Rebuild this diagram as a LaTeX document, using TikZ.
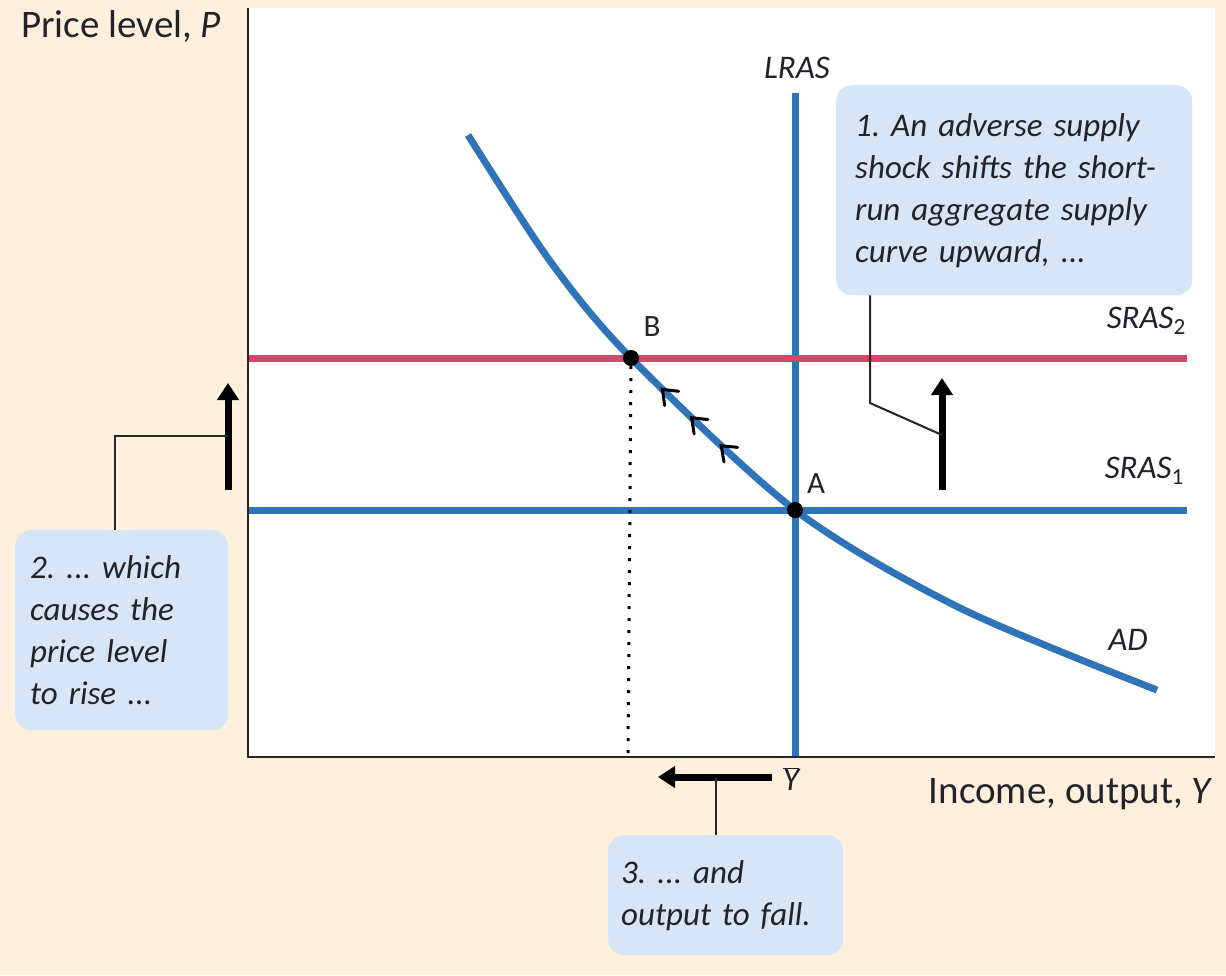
\documentclass[tikz,border=0pt]{standalone}
\usepackage{fontspec}
\setmainfont{Carlito}
\usetikzlibrary{arrows.meta,decorations.markings}
\definecolor{bg}{HTML}{FEF0DC}
\definecolor{cbox}{HTML}{D6E6F6}
\definecolor{lblue}{HTML}{2F74B8}
\definecolor{lred}{HTML}{E0416B}
\definecolor{txt}{HTML}{222228}
\frenchspacing
\begin{document}
\begin{tikzpicture}[x=1pt,y=-1pt,
  callout/.style={fill=cbox, rounded corners=16pt, anchor=north west, align=left, text=txt,
    font=\fontsize{33}{42}\selectfont\itshape, inner ysep=0pt},
  curveline/.style={line width=7pt},
  bigarrow/.style={line width=7pt, black, -{Triangle[length=17pt,width=21pt]}},
  leader/.style={line width=2pt, draw=black!85},
  lbl/.style={text=txt, font=\fontsize{39}{42}\selectfont, inner sep=0pt},
  ilbl/.style={text=txt, font=\fontsize{33}{36}\selectfont\itshape, inner sep=0pt},
  pt/.style={circle, fill=black, inner sep=0pt, minimum size=16pt},
  chev/.style={black, line width=3pt, line join=miter, line cap=round},
  chevmarks/.style={postaction={decorate, decoration={markings,
    mark=at position 0.360 with {\draw[chev] (8,10) -- (-5,0) -- (8,-10);},
    mark=at position 0.405 with {\draw[chev] (8,10) -- (-5,0) -- (8,-10);},
    mark=at position 0.450 with {\draw[chev] (8,10) -- (-5,0) -- (8,-10);}}}}]
\useasboundingbox (0,0) rectangle (1226,975);
\fill[bg] (0,0) rectangle (1226,975);
\fill[white] (248,8) rectangle (1215,757);

% coordinates
\coordinate (o) at (248,757);
\coordinate (ytop) at (248,8);
\coordinate (xend) at (1215,757);
\coordinate (lrastop) at (795,93);
\coordinate (lrasbot) at (795,757);
\coordinate (s2l) at (248,358);
\coordinate (s2r) at (1187,358);
\coordinate (s1l) at (248,510);
\coordinate (s1r) at (1187,510);
\coordinate (bfoot) at (628,757);

% curves
\draw[curveline, lblue] (lrastop) -- (lrasbot);
\draw[curveline, lred] (s2l) -- (s2r);
\draw[curveline, lblue] (s1l) -- (s1r);
\draw[curveline, lblue, chevmarks] plot[smooth] coordinates {(468,135) (550,261) (631,358) (795,510) (960,608) (1157,690)};

% points
\node[pt] (B) at (631,358) {};
\node[pt] (A) at (795,510) {};
\draw[line width=3pt, dash pattern=on 3pt off 9pt] (B) -- (bfoot);

% axes
\draw[line width=2.5pt, draw=black!85] (ytop) -- (o) -- (xend);

% labels
\node[lbl, anchor=base west] (ptitle) at (21,37) {Price level, \textit{P}};
\node[lbl, anchor=base east] (xtitle) at (1213,803) {Income, output, \textit{Y}};
\node[ilbl] (lras) at (797,68) {LRAS};
\node[ilbl, anchor=base east] (sras2) at (1186,328) {SRAS\textsubscript{\upshape 2}};
\node[ilbl, anchor=base east] (sras1) at (1184,478) {SRAS\textsubscript{\upshape 1}};
\node[ilbl] (adl) at (1128,640) {AD};
\node[lbl, font=\fontsize{31}{34}\selectfont] (bl) at (652,327) {B};
\node[lbl, font=\fontsize{31}{34}\selectfont] (al) at (816,484) {A};
\node[ilbl] (ybar) at (791,779) {$\overline{\mbox{\itshape Y}}$};

% big arrows
\coordinate (r1) at (942,490);
\coordinate (r2) at (942,378);
\coordinate (l1) at (228,490);
\coordinate (l2) at (228,383);
\coordinate (b1) at (772,777);
\coordinate (b2) at (658,777);
\draw[bigarrow] (r1) -- (r2);
\draw[bigarrow] (l1) -- (l2);
\draw[bigarrow] (b1) -- (b2);

% callouts
\node[callout, minimum width=356pt, minimum height=210pt, text width=318pt, inner xsep=19pt] (c1) at (836,85)
  {1. An adverse supply\\shock shifts the short-\\run aggregate supply\\curve upward, ...};
\node[callout, minimum width=213pt, minimum height=200pt, text width=183pt, inner xsep=15pt] (c2) at (15,530)
  {2. ... which\\causes the\\price level\\to rise ...};
\node[callout, minimum width=235pt, minimum height=120pt, text width=209pt, inner xsep=13pt] (c3) at (608,835)
  {3. ... and\\output to fall.};

% leaders
\coordinate (k1) at (870,403);
\coordinate (k1e) at (942,435);
\coordinate (k2) at (115,436);
\coordinate (k2e) at (228,436);
\coordinate (k3e) at (716,777);
\draw[leader] (c1.south west -| k1) -- (k1) -- (k1e);
\draw[leader] (c2.north west -| k2) -- (k2) -- (k2e);
\draw[leader] (c3.north west -| k3e) -- (k3e);
\end{tikzpicture}
\end{document}
